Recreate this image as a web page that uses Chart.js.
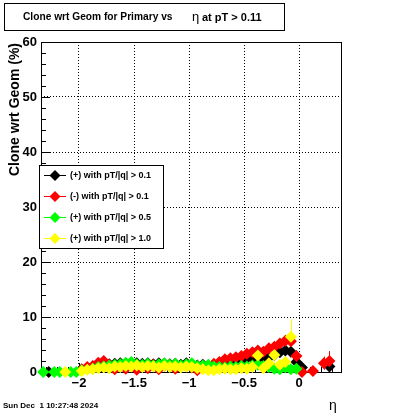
<!DOCTYPE html>
<html>
<head>
<meta charset="utf-8">
<script src="https://cdn.jsdelivr.net/npm/chart.js@4"></script>
<style>
  body { margin: 0; background: #fff; }
  canvas { display: block; }
</style>
</head>
<body>
<canvas id="myChart" width="400" height="414"></canvas>
<script>
// eta bin centres
const eta = [-2.325, -2.275, -2.225, -2.175, -2.125, -2.075, -2.025, -1.975, -1.925, -1.875,
  -1.825, -1.775, -1.725, -1.675, -1.625, -1.575, -1.525, -1.475, -1.425, -1.375,
  -1.325, -1.275, -1.225, -1.175, -1.125, -1.075, -1.025, -0.975, -0.925, -0.875,
  -0.825, -0.775, -0.725, -0.675, -0.625, -0.575, -0.525, -0.475, -0.425, -0.375,
  -0.325, -0.275, -0.225, -0.175, -0.125, -0.075, -0.025, 0.025, 0.075, 0.125,
  0.175, 0.225, 0.275, 0.325];

// clone rate (%) per series
const posPt01 = [null, 0, null, null, null, null, null, 0.4, 0.6, 0.9,
  1.1, 1.3, 1.4, 1.5, 1.6, 1.5, 1.7, 1.6, 1.5, 1.6,
  1.4, 1.6, 1.5, 1.4, 1.5, 1.3, 1.6, 1.4, 1.2, 1.3,
  1.0, 0.9, 1.1, 1.2, 1.4, 1.6, 1.9, 2.5, 2.6, 2.4,
  2.7, 2.6, 3.1, 3.6, 3.9, 3.7, 1.8, 0.8, null, null,
  null, null, 1.0, null];
const negPt01 = [null, null, null, null, null, null, null, 0.5, 0.9, 1.1,
  1.7, 2.0, 1.3, 0.5, 1.0, 0.6, 1.2, 0.4, 1.0, 0.7,
  1.3, 0.5, 1.1, 1.2, 0.6, 1.0, 1.1, 0.8, 0.3, 1.0,
  0.9, 1.5, 1.8, 2.3, 2.5, 2.7, 2.9, 3.3, 3.6, 3.9,
  3.7, 4.3, 4.6, 5.2, 5.7, 5.6, 2.9, 0, null, 0.2,
  null, 1.6, 2.0, null];
const posPt05 = [0, null, 0, 0, null, 0, 0, 0.3, null, 0.6,
  0.9, 1.0, 1.2, 1.3, 1.4, 1.7, 1.8, 1.4, 1.3, 1.5,
  1.2, 1.4, 1.6, 1.3, 1.5, 1.2, 1.4, 1.6, 1.1, 1.2,
  1.3, 1.0, 0.9, 0.8, 1.0, 0.9, 1.1, 1.0, 1.2, 1.3,
  1.1, 0.9, 0.6, 0.5, 0.8, 0.5, 0.6, null, null, null,
  null, null, null, null];
const posPt10 = [null, null, null, null, 0, null, null, 0.2, 0.4, 0.5,
  0.7, 0.8, 0.7, 1.0, 0.9, 1.1, 1.0, 1.2, 0.9, 1.1,
  1.0, 0.8, 1.1, 0.9, 1.0, 0.8, 1.0, 0.9, 0.7, 0.5,
  0.3, 0.3, 0.5, 0.6, 0.5, 0.5, 0.7, 0.6, 0.9, 3.0,
  0.7, 1.6, 3.1, 1.3, 1.8, 6.4, null, null, null, null,
  null, null, null, null];

// vertical error sizes (only the visible ones)
const errPosPt01 = [null, 0.5, null, null, null, null, null, null, null, null,
  null, null, null, null, null, null, null, null, null, null,
  null, null, null, null, null, null, null, null, null, null,
  null, null, null, null, null, null, null, null, null, null,
  null, null, null, null, 0.8, null, null, null, null, null,
  null, null, 0.8, null];
const errNegPt01 = [null, null, null, null, null, null, null, null, null, null,
  null, null, null, null, null, null, null, null, null, null,
  null, null, null, null, null, null, null, null, null, null,
  null, null, null, null, null, null, null, null, null, null,
  null, null, null, null, null, null, 1.0, null, null, null,
  null, 1.2, 1.8, null];
const errPosPt05 = new Array(eta.length).fill(null);
const errPosPt10 = [null, null, null, null, null, null, null, null, null, null,
  null, null, null, null, null, null, null, null, null, null,
  null, null, null, null, null, null, null, null, null, null,
  null, null, null, null, null, null, null, null, null, 1.2,
  null, 1.0, 1.3, null, 1.4, 3.2, null, null, null, null,
  null, null, null, null];

const seriesLabels = ["(+) with pT/|q| > 0.1", "(-) with pT/|q| > 0.1",
  "(+) with pT/|q| > 0.5", "(+) with pT/|q| > 1.0"];
const seriesColors = ["#000000", "#ff0000", "#00ff00", "#ffff00"];
const xTicks = [-2, -1.5, -1, -0.5, 0];

const FONT = "'Liberation Sans', Arial, sans-serif";

function toPoints(vals, errs) {
  let pts = [];
  for (let i = 0; i < eta.length; i++) {
    if (vals[i] === null) continue;
    pts.push({ x: eta[i], y: vals[i], err: errs[i] });
  }
  return pts;
}

const allVals = [posPt01, negPt01, posPt05, posPt10];
const allErrs = [errPosPt01, errNegPt01, errPosPt05, errPosPt10];

let datasets = [];
for (let k = 0; k < 4; k++) {
  datasets.push({
    label: seriesLabels[k],
    data: toPoints(allVals[k], allErrs[k]),
    showLine: false,
    clip: false,
    pointStyle: "rectRot",
    pointRadius: 6,
    pointHoverRadius: 6,
    pointBorderWidth: 0,
    backgroundColor: seriesColors[k],
    borderColor: seriesColors[k],
    order: 4 - k,
  });
}

// frame, inward ticks and error bars under the markers
const rootFrame = {
  id: "rootFrame",
  beforeDatasetsDraw(chart) {
    const ctx = chart.ctx;
    const a = chart.chartArea;
    const xs = chart.scales.x, ys = chart.scales.y;
    ctx.save();
    ctx.strokeStyle = "#000";
    ctx.lineWidth = 1;
    ctx.strokeRect(a.left + 0.5, a.top + 0.5, a.right - a.left, a.bottom - a.top);
    ctx.beginPath();
    for (let v = 0; v <= 60; v += 2) {
      const y = Math.round(ys.getPixelForValue(v)) + 0.5;
      const len = v % 10 === 0 ? 9 : 5;
      ctx.moveTo(a.left, y);
      ctx.lineTo(a.left + len, y);
    }
    for (let v = -2.3; v <= 0.35; v += 0.1) {
      const vr = Math.round(v * 10) / 10;
      const x = Math.round(xs.getPixelForValue(vr)) + 0.5;
      const len = Math.abs(vr * 2 - Math.round(vr * 2)) < 1e-6 ? 9 : 5;
      ctx.moveTo(x, a.bottom);
      ctx.lineTo(x, a.bottom - len);
    }
    ctx.stroke();
    // error bars
    chart.data.datasets.forEach((ds) => {
      ctx.strokeStyle = ds.borderColor;
      ctx.beginPath();
      ds.data.forEach((p) => {
        if (!p.err) return;
        const x = Math.round(xs.getPixelForValue(p.x)) + 0.5;
        ctx.moveTo(x, ys.getPixelForValue(Math.max(0, p.y - p.err)));
        ctx.lineTo(x, ys.getPixelForValue(p.y + p.err));
      });
      ctx.stroke();
    });
    ctx.restore();
  },
  afterDraw(chart) {
    const ctx = chart.ctx;
    const a = chart.chartArea;
    ctx.save();
    // title box
    ctx.fillStyle = "#fff";
    ctx.fillRect(4, 3, 280, 28);
    ctx.strokeStyle = "#000";
    ctx.lineWidth = 1;
    ctx.strokeRect(4.5, 3.5, 280, 27);
    ctx.fillStyle = "#000";
    ctx.textBaseline = "middle";
    ctx.font = "bold 10.2px " + FONT;
    ctx.fillText("Clone wrt Geom for Primary vs", 23, 17.5);
    ctx.font = "13px " + FONT;
    ctx.fillText("\u03b7", 192, 17.5);
    ctx.font = "bold 11px " + FONT;
    ctx.fillText("at pT > 0.11", 202, 17.5);

    // y title
    ctx.save();
    ctx.translate(15, a.top + 1);
    ctx.rotate(-Math.PI / 2);
    ctx.textAlign = "right";
    ctx.font = "bold 14px " + FONT;
    ctx.fillText("Clone wrt Geom (%)", 0, 0);
    ctx.restore();

    // x title
    ctx.font = "14px " + FONT;
    ctx.textAlign = "left";
    ctx.fillText("\u03b7", 329, 406);

    // date
    ctx.font = "bold 8px " + FONT;
    ctx.fillText("Sun Dec  1 10:27:48 2024", 3, 406);

    // legend
    const lx = 39, ly = 165, lw = 124, lh = 83;
    ctx.fillStyle = "#fff";
    ctx.fillRect(lx, ly, lw, lh);
    ctx.strokeStyle = "#000";
    ctx.strokeRect(lx + 0.5, ly + 0.5, lw, lh);
    chart.data.datasets.forEach((ds, i) => {
      const y = ly + 10.5 + i * 21;
      ctx.strokeStyle = ds.borderColor;
      ctx.fillStyle = ds.backgroundColor;
      ctx.beginPath();
      ctx.moveTo(lx + 5, y);
      ctx.lineTo(lx + 27, y);
      ctx.stroke();
      ctx.beginPath();
      ctx.moveTo(lx + 16, y - 5.5);
      ctx.lineTo(lx + 21.5, y);
      ctx.lineTo(lx + 16, y + 5.5);
      ctx.lineTo(lx + 10.5, y);
      ctx.closePath();
      ctx.fill();
      ctx.fillStyle = "#000";
      ctx.font = "bold 9px " + FONT;
      ctx.fillText(ds.label, lx + 31, y + 0.5);
    });
    ctx.restore();
  },
};

new Chart(document.getElementById("myChart"), {
  type: "scatter",
  data: { datasets: datasets },
  options: {
    responsive: false,
    animation: false,
    layout: { padding: { left: 0, right: 59, top: 42, bottom: 0 } },
    plugins: {
      legend: { display: false },
      title: { display: false },
      tooltip: { enabled: false },
    },
    scales: {
      x: {
        type: "linear",
        min: -2.345,
        max: 0.38,
        afterBuildTicks: (axis) => { axis.ticks = xTicks.map((v) => ({ value: v })); },
        afterFit: (axis) => { axis.height = 42; },
        grid: { color: "#000", lineWidth: 1, drawTicks: false },
        border: { display: false, dash: [1, 2] },
        ticks: {
          color: "#000",
          padding: 4,
          maxRotation: 0,
          font: { family: FONT, size: 13, weight: "bold" },
          callback: (v) => (v < 0 ? "\u2212" + Math.abs(v) : String(v)),
        },
      },
      y: {
        min: 0,
        max: 60,
        afterFit: (axis) => { axis.width = 41; },
        grid: { color: "#000", lineWidth: 1, drawTicks: false },
        border: { display: false, dash: [1, 2] },
        ticks: {
          color: "#000",
          stepSize: 10,
          padding: 4,
          font: { family: FONT, size: 13, weight: "bold" },
        },
      },
    },
  },
  plugins: [rootFrame],
});
</script>
</body>
</html>
